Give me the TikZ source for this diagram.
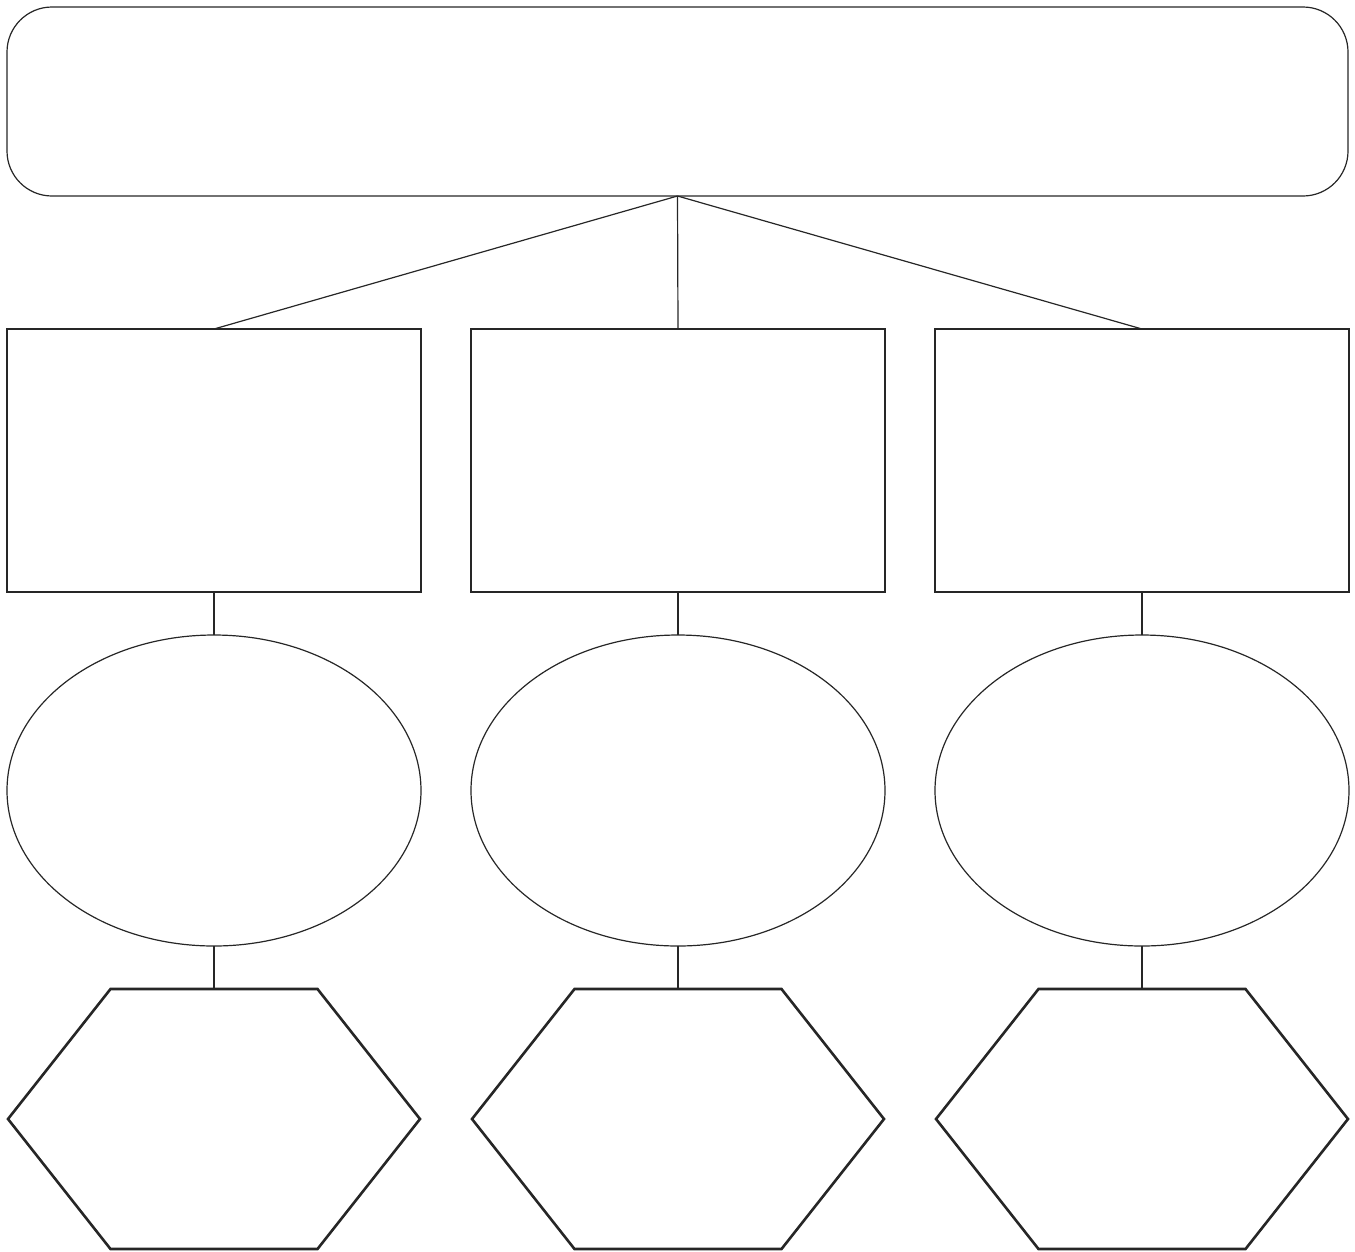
\documentclass[tikz,border=0pt]{standalone}
\usetikzlibrary{shapes.geometric}
\begin{document}
\begin{tikzpicture}[x=1pt,y=-1pt,
  thin line/.style={line width=1.2pt,draw=black!85},
  topbox/.style={thin line,rectangle,rounded corners=45pt,minimum width=1341pt,minimum height=189pt,inner sep=0pt,outer sep=0pt},
  midbox/.style={thin line,rectangle,minimum width=414pt,minimum height=263pt,inner sep=0pt,outer sep=0pt},
  ovalbox/.style={thin line,ellipse,minimum width=414pt,minimum height=311pt,inner sep=0pt,outer sep=0pt},
  hexline/.style={line width=2.6pt,draw=black!85,line join=miter},
  conn/.style={thin line}]
\useasboundingbox (0,0) rectangle (1355,1251);
\node[topbox] (top) at (677.5,101.5) {};
\foreach \n/\cx in {a/214,b/678,c/1142}{
  \node[midbox] (r\n) at (\cx,460.5) {};
  \node[ovalbox] (e\n) at (\cx,790.5) {};
  \draw[hexline] (\cx-206,1119) -- (\cx-103.5,989) -- (\cx+103.5,989) -- (\cx+206,1119) -- (\cx+103.5,1249) -- (\cx-103.5,1249) -- cycle;
  \coordinate (h\n) at (\cx,989);
  \draw[conn] (r\n.south) -- (e\n.north);
  \draw[conn] (e\n.south) -- (h\n);
  \draw[conn] (top.south) -- (r\n.north);
}
\end{tikzpicture}
\end{document}
